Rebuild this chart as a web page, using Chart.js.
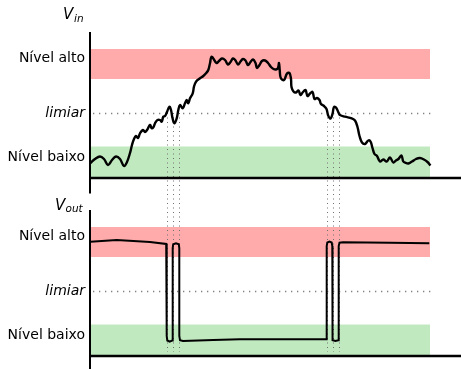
<!DOCTYPE html>
<html lang="pt">
<head>
<meta charset="UTF-8" />
<title>Vin / Vout com histerese</title>
<script src="https://cdn.jsdelivr.net/npm/chart.js"></script>
<style>
  html, body { margin: 0; padding: 0; background: #fff; }
  canvas { display: block; }
</style>
</head>
<body>
<canvas id="chart" width="461" height="369"></canvas>
<script>
  // sinal de entrada (tempo, nível)
  const vInTime = [
    0.5, 5, 10, 14, 18, 22, 26, 30, 34, 37,
    40, 42, 44, 46, 48, 50, 53, 55, 57, 60, 61.7, 63.5, 65, 67.5, 70, 71.7, 73.3, 75, 77, 79.3,
    81, 82.5, 84.3, 86.7, 88.3, 90, 92.7, 95, 96.7, 98.3, 100, 102.7, 104, 106, 110, 113.3,
    116, 118.3, 120, 121.7,
    126.5, 129, 132, 135, 138, 140.5, 143, 145.5, 148, 150.5, 153, 155.5, 158, 160.5, 163,
    165.5, 167, 169.5, 172, 175, 178, 181, 183.5, 186, 188, 189, 189.8, 190.8,
    194, 197, 199.5, 201, 201.5, 203.5, 206, 208.5, 210.5, 213, 215.5, 217.5, 220, 222.5,
    224.5, 227, 229.5, 231, 234, 236.5, 238, 240, 241.5, 242.7, 244, 246, 248.7,
    250, 255, 261.7, 265, 267.5, 269.5, 272, 275, 278.3, 280.5, 282.5, 284.5, 287, 290,
    293.3, 296.7, 300, 303.3, 306, 308.5, 311.5, 313.3, 316, 318.3, 322, 326, 330, 334,
    337.5, 340.5
  ];
  const vInLevel = [
    15, 19, 21.5, 19, 13, 18, 21.5, 19, 12, 16,
    25, 33, 39, 42, 40, 44.7, 48, 46, 48, 53, 49.7, 51, 54.7, 58, 58, 56.3, 61.3, 62, 66, 71.3,
    68, 60, 54.7, 59.7, 68, 73, 69.7, 74.7, 78, 74.7, 79.7, 84.7, 91.3, 96.3, 99.7, 102,
    104.7, 108, 114.7, 121.3,
    115, 117, 119.5, 118, 113.5, 116, 119.5, 117.5, 113.5, 116.5, 119, 117.5, 113, 116, 118.5,
    115, 110, 113, 117, 117.5, 115, 111, 109, 108.5, 110, 115, 107, 100,
    98, 104.5, 105, 99, 91, 86.5, 85.5, 87.5, 83, 86, 88, 82, 84.5, 86,
    79, 80, 78, 74, 72, 69, 63, 59.5, 61, 65, 71, 70.5, 65,
    63, 61.3, 59.7, 57.5, 51, 42, 35.5, 34, 37.5, 36.5, 30, 24, 22, 16.5,
    18.5, 16.5, 20.5, 15.5, 17.5, 19, 22.5, 16.5, 15, 14.5, 16.5, 19, 20, 18.5,
    16, 12.5
  ];

  // sinal de saída
  const vOutTime = [
    0.5, 26.7, 60, 76.2, 76.7, 76.7, 77.3, 79.7, 82.1, 82.7, 82.7, 83.2, 86, 88.8, 89.3, 89.3,
    90, 93, 123.3, 150, 200, 236, 236.7, 236.7, 237.3, 239.5, 241.7, 242.3, 242.3, 242.8,
    245.5, 248.2, 248.7, 248.7, 249.5, 253, 300, 339.3
  ];
  const vOutLevel = [
    114.3, 116, 114, 112, 109, 20, 15.5, 14.3, 15.5, 20, 108, 111.7, 112.7, 111.7, 108, 20,
    15.8, 15, 16, 16.7, 16.7, 16.7, 19, 110, 113.5, 114.5, 113.5, 110, 20, 15.8,
    15, 15.8, 20, 110, 113.3, 113.7, 113.3, 112.7
  ];

  const tickValues = [21, 65, 120];
  const tickLabels = ['Nível baixo', 'limiar', 'Nível alto'];
  const bandLow = [1, 31.5];
  const bandHigh = [99, 129];
  const threshold = 65;
  const bandEnd = 340;
  const thresholdEnd = 342;
  const crossings = [76.7, 82.7, 89.3, 236.7, 242.7, 248.7];
  const crossEnd = 4;

  const FONT = '"DejaVu Sans", sans-serif';

  const panels = {
    id: 'panels',
    beforeDatasetsDraw(chart) {
      const { ctx, scales: { x, yIn, yOut } } = chart;
      const x0 = x.getPixelForValue(0);
      const x1 = x.getPixelForValue(bandEnd);
      ctx.save();
      [yIn, yOut].forEach(y => {
        const hTop = y.getPixelForValue(bandHigh[1]);
        const hBot = y.getPixelForValue(bandHigh[0]);
        ctx.fillStyle = '#ffabab';
        ctx.fillRect(x0, hTop, x1 - x0, hBot - hTop);
        const lTop = y.getPixelForValue(bandLow[1]);
        const lBot = y.getPixelForValue(bandLow[0]);
        ctx.fillStyle = '#c1e9bf';
        ctx.fillRect(x0, lTop, x1 - x0, lBot - lTop);

        // limiar pontilhado
        const ly = Math.round(y.getPixelForValue(threshold)) + 0.5;
        ctx.strokeStyle = '#808080';
        ctx.lineWidth = 1.3;
        ctx.setLineDash([1.3, 4.7]);
        ctx.beginPath();
        ctx.moveTo(x0 + 3, ly);
        ctx.lineTo(x.getPixelForValue(thresholdEnd), ly);
        ctx.stroke();
      });

      // linhas verticais nos cruzamentos do limiar
      ctx.strokeStyle = '#707070';
      ctx.lineWidth = 1;
      ctx.setLineDash([1, 3.5]);
      crossings.forEach(t => {
        const px = Math.round(x.getPixelForValue(t)) + 0.5;
        ctx.beginPath();
        ctx.moveTo(px, yIn.getPixelForValue(threshold));
        ctx.lineTo(px, yOut.getPixelForValue(crossEnd));
        ctx.stroke();
      });
      ctx.restore();
    },
    afterDatasetsDraw(chart) {
      const { ctx, chartArea, scales: { yIn, yOut } } = chart;
      const left = chartArea.left;
      ctx.save();
      ctx.strokeStyle = '#000';
      ctx.setLineDash([]);

      // eixos verticais
      ctx.lineWidth = 2;
      ctx.beginPath();
      ctx.moveTo(left, chartArea.top);
      ctx.lineTo(left, yIn.getPixelForValue(-15.5));
      ctx.moveTo(left, yOut.getPixelForValue(146));
      ctx.lineTo(left, chartArea.bottom);
      ctx.stroke();

      // eixos horizontais
      ctx.lineWidth = 2.6;
      ctx.beginPath();
      const y0 = yIn.getPixelForValue(0);
      const y1 = yOut.getPixelForValue(0);
      ctx.moveTo(left - 1, y0);
      ctx.lineTo(chartArea.right, y0);
      ctx.moveTo(left - 1, y1);
      ctx.lineTo(chartArea.right, y1);
      ctx.stroke();

      // rótulos V_in e V_out
      ctx.fillStyle = '#000';
      ctx.textBaseline = 'alphabetic';
      ctx.textAlign = 'left';
      ctx.font = 'italic 15px ' + FONT;
      ctx.fillText('V', left - 27, chartArea.top - 13);
      ctx.font = 'italic 10.5px ' + FONT;
      ctx.fillText('in', left - 16, chartArea.top - 10);

      ctx.font = 'italic 15px ' + FONT;
      const vy = yOut.getPixelForValue(146);
      ctx.fillText('V', left - 35, vy);
      ctx.font = 'italic 10.5px ' + FONT;
      ctx.fillText('out', left - 24.5, vy + 2);
      ctx.restore();
    }
  };

  const yScale = (min, max) => ({
    type: 'linear',
    position: 'left',
    stack: 'panel',
    stackWeight: 1,
    min: min,
    max: max,
    grid: { display: false, drawTicks: false },
    border: { display: false },
    afterBuildTicks: s => { s.ticks = tickValues.map(v => ({ value: v })); },
    afterFit: s => {
      s.width = 90;
      s.paddingTop = 0;
      s.paddingBottom = 0;
    },
    ticks: {
      autoSkip: false,
      padding: 5,
      color: '#000',
      font: c => ({
        family: FONT,
        size: 14,
        style: c.tick && c.tick.value === threshold ? 'italic' : 'normal'
      }),
      callback: (v, i) => tickLabels[i]
    }
  });

  new Chart(document.getElementById('chart'), {
    type: 'line',
    data: {
      datasets: [
        {
          label: 'Vin',
          data: vInTime.map((t, i) => ({ x: t, y: vInLevel[i] })),
          yAxisID: 'yIn',
          borderColor: '#000',
          borderWidth: 2.4,
          pointRadius: 0,
          tension: 0.4,
          fill: false
        },
        {
          label: 'Vout',
          data: vOutTime.map((t, i) => ({ x: t, y: vOutLevel[i] })),
          yAxisID: 'yOut',
          borderColor: '#000',
          borderWidth: 2,
          pointRadius: 0,
          tension: 0,
          fill: false
        }
      ]
    },
    options: {
      responsive: false,
      animation: false,
      events: [],
      layout: { padding: { top: 32, right: 0, bottom: 0, left: 0 } },
      plugins: { legend: { display: false }, tooltip: { enabled: false } },
      scales: {
        x: { type: 'linear', min: 0, max: 371, display: false },
        // no empilhamento o último eixo declarado fica em cima
        yOut: yScale(-13, 155.5),
        yIn: yScale(-22.5, 146)
      }
    },
    plugins: [panels]
  });
</script>
</body>
</html>
